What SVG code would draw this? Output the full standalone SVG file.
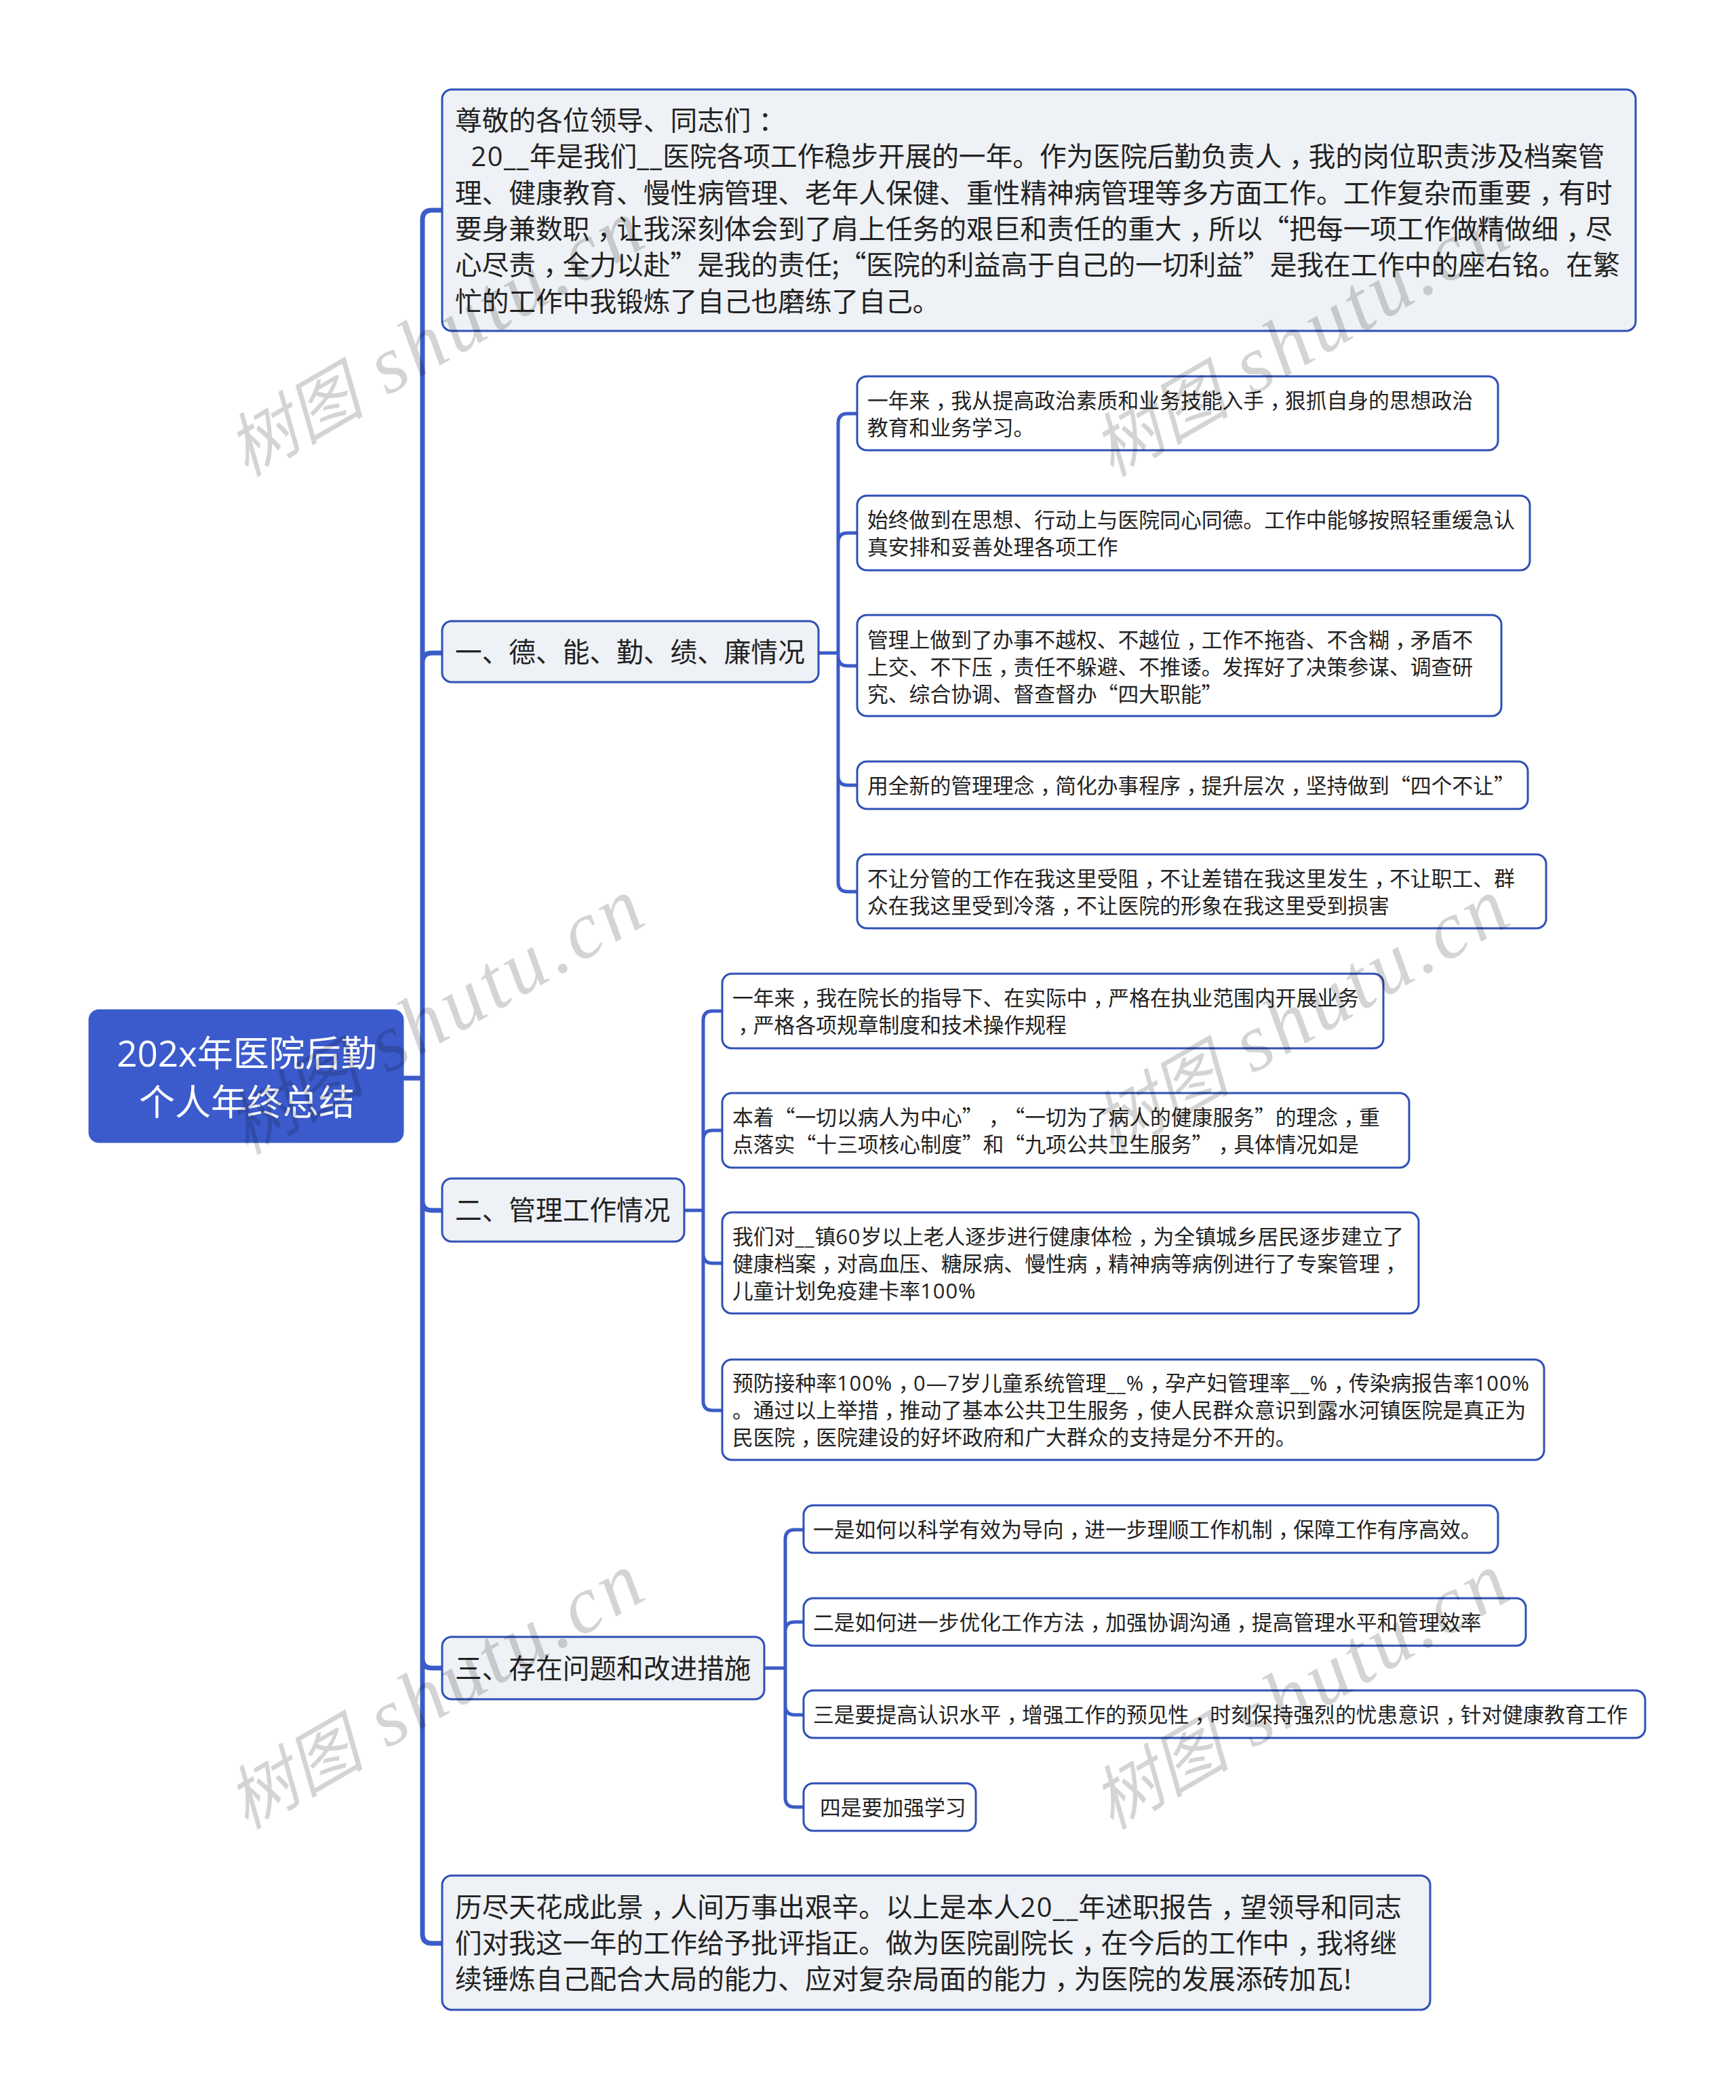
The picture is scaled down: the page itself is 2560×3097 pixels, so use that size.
<svg xmlns="http://www.w3.org/2000/svg" width="2560" height="3097" viewBox="0 0 2560 3097">
<style>
text{font-family:"Noto Sans CJK SC","Noto Sans",sans-serif;fill:#222;white-space:pre;text-spacing-trim:space-all}
.n{fill:#fff;stroke:#2f50b5;stroke-width:3}
.m{fill:#eef1f5;stroke:#2f50b5;stroke-width:3}
.r{fill:#3b5bcc;stroke:#3b5bcc;stroke-width:3}
.f54{font-size:53px;fill:#fff;text-anchor:middle}
.f40{font-size:39.7px}
.f32{font-size:30.8px}
.l{font-family:"Open Sans","Noto Sans",sans-serif}
.f40 .l{letter-spacing:1.5px}
.f32 .l{letter-spacing:1px}
.c{fill:none;stroke:#3b5bc6;stroke-linecap:round}
.c1{stroke-width:7}
.c2{stroke-width:5}
.wm{font-family:"Liberation Serif","Noto Sans CJK SC",serif;font-style:italic;font-size:120px;letter-spacing:6px;fill:#000;fill-opacity:.17}
.wc{font-size:102px;letter-spacing:0}
</style>
<g id="connectors">
<path class="c c1" d="M596 1590H623M623 1590V324Q623 310 637 310H652M623 1590V977Q623 963 637 963H652M623 1590V1771Q623 1785 637 1785H652M623 1590V2446Q623 2460 637 2460H652M623 1590V2852Q623 2866 637 2866H652"/>
<path class="c c2" d="M1207 963H1236M1236 963V624Q1236 610 1250 610H1265M1236 963V800Q1236 786 1250 786H1265M1236 963V968Q1236 982 1250 982H1265M1236 963V1144Q1236 1158 1250 1158H1265M1236 963V1301Q1236 1315 1250 1315H1265"/>
<path class="c c2" d="M1009 1785H1037M1037 1785V1505Q1037 1491 1051 1491H1066M1037 1785V1681Q1037 1667 1051 1667H1066M1037 1785V1849Q1037 1863 1051 1863H1066M1037 1785V2066Q1037 2080 1051 2080H1066"/>
<path class="c c2" d="M1127 2460H1158M1158 2460V2270Q1158 2256 1172 2256H1187M1158 2460V2406Q1158 2392 1172 2392H1187M1158 2460V2515Q1158 2529 1172 2529H1187M1158 2460V2651Q1158 2665 1172 2665H1187"/>
</g>
<g id="root"><rect class="r" x="132" y="1490" width="462" height="194" rx="14"/><text class="f54" x="364" y="1573"><tspan class="l">202x</tspan>年医院后勤</text><text class="f54" x="364" y="1645">个人年终总结</text></g>
<g id="intro"><rect class="m" x="652" y="132" width="1760" height="356" rx="14"/>
<text class="f40" x="671" y="192">尊敬的各位领导、同志们<tspan dx="11">：</tspan></text>
<text class="f40" x="671" y="245"><tspan class="l">  20__</tspan>年是我们<tspan class="l">__</tspan>医院各项工作稳步开展的一年。作为医院后勤负责人<tspan dx="11">，</tspan><tspan dx="-11">我</tspan>的岗位职责涉及档案管</text>
<text class="f40" x="671" y="298.5">理、健康教育、慢性病管理、老年人保健、重性精神病管理等多方面工作。工作复杂而重要<tspan dx="11">，</tspan><tspan dx="-11">有</tspan>时</text>
<text class="f40" x="671" y="352">要身兼数职<tspan dx="11">，</tspan><tspan dx="-11">让</tspan>我深刻体会到了肩上任务的艰巨和责任的重大<tspan dx="11">，</tspan><tspan dx="-11">所</tspan>以“把每一项工作做精做细<tspan dx="11">，</tspan><tspan dx="-11">尽</tspan></text>
<text class="f40" x="671" y="405">心尽责<tspan dx="11">，</tspan><tspan dx="-11">全</tspan>力以赴”是我的责任;“医院的利益高于自己的一切利益”是我在工作中的座右铭。在繁</text>
<text class="f40" x="671" y="458.5">忙的工作中我锻炼了自己也磨练了自己。</text></g>
<g id="sec1"><rect class="m" x="652" y="916" width="555" height="90" rx="14"/><text class="f40" x="671" y="976">一、德、能、勤、绩、廉情况</text></g>
<g id="sec1-1"><rect class="n" x="1264" y="555" width="945" height="109" rx="14"/><text class="f32" x="1279" y="601.5">一年来<tspan dx="8.5">，</tspan><tspan dx="-8.5">我</tspan>从提高政治素质和业务技能入手<tspan dx="8.5">，</tspan><tspan dx="-8.5">狠</tspan>抓自身的思想政治</text><text class="f32" x="1279" y="641.5">教育和业务学习。</text></g>
<g id="sec1-2"><rect class="n" x="1264" y="731" width="992" height="110" rx="14"/><text class="f32" x="1279" y="777.5">始终做到在思想、行动上与医院同心同德。工作中能够按照轻重缓急认</text><text class="f32" x="1279" y="817.5">真安排和妥善处理各项工作</text></g>
<g id="sec1-3"><rect class="n" x="1264" y="907" width="950" height="149" rx="14"/><text class="f32" x="1279" y="954.5">管理上做到了办事不越权、不越位<tspan dx="8.5">，</tspan><tspan dx="-8.5">工</tspan>作不拖沓、不含糊<tspan dx="8.5">，</tspan><tspan dx="-8.5">矛</tspan>盾不</text><text class="f32" x="1279" y="994.5">上交、不下压<tspan dx="8.5">，</tspan><tspan dx="-8.5">责</tspan>任不躲避、不推诿。发挥好了决策参谋、调查研</text><text class="f32" x="1279" y="1034.5">究、综合协调、督查督办“四大职能”</text></g>
<g id="sec1-4"><rect class="n" x="1264" y="1123" width="989" height="70" rx="14"/><text class="f32" x="1279" y="1169.5">用全新的管理理念<tspan dx="8.5">，</tspan><tspan dx="-8.5">简</tspan>化办事程序<tspan dx="8.5">，</tspan><tspan dx="-8.5">提</tspan>升层次<tspan dx="8.5">，</tspan><tspan dx="-8.5">坚</tspan>持做到“四个不让”</text></g>
<g id="sec1-5"><rect class="n" x="1264" y="1260" width="1016" height="109" rx="14"/><text class="f32" x="1279" y="1306.5">不让分管的工作在我这里受阻<tspan dx="8.5">，</tspan><tspan dx="-8.5">不</tspan>让差错在我这里发生<tspan dx="8.5">，</tspan><tspan dx="-8.5">不</tspan>让职工、群</text><text class="f32" x="1279" y="1346.5">众在我这里受到冷落<tspan dx="8.5">，</tspan><tspan dx="-8.5">不</tspan>让医院的形象在我这里受到损害</text></g>
<g id="sec2"><rect class="m" x="652" y="1738" width="357" height="93" rx="14"/><text class="f40" x="671" y="1799">二、管理工作情况</text></g>
<g id="sec2-1"><rect class="n" x="1065" y="1436" width="975" height="110" rx="14"/><text class="f32" x="1080" y="1482.5">一年来<tspan dx="8.5">，</tspan><tspan dx="-8.5">我</tspan>在院长的指导下、在实际中<tspan dx="8.5">，</tspan><tspan dx="-8.5">严</tspan>格在执业范围内开展业务</text><text class="f32" x="1080" y="1522.5"><tspan dx="8.5">，</tspan><tspan dx="-8.5">严</tspan>格各项规章制度和技术操作规程</text></g>
<g id="sec2-2"><rect class="n" x="1065" y="1612" width="1013" height="110" rx="14"/><text class="f32" x="1080" y="1658.5">本着“一切以病人为中心”<tspan dx="8.5">，</tspan><tspan dx="-8.5">“</tspan>一切为了病人的健康服务”的理念<tspan dx="8.5">，</tspan><tspan dx="-8.5">重</tspan></text><text class="f32" x="1080" y="1698.5">点落实“十三项核心制度”和“九项公共卫生服务”<tspan dx="8.5">，</tspan><tspan dx="-8.5">具</tspan>体情况如是</text></g>
<g id="sec2-3"><rect class="n" x="1065" y="1788" width="1027" height="149" rx="14"/><text class="f32" x="1080" y="1834.5">我们对<tspan class="l">__</tspan>镇<tspan class="l">60</tspan>岁以上老人逐步进行健康体检<tspan dx="8.5">，</tspan><tspan dx="-8.5">为</tspan>全镇城乡居民逐步建立了</text><text class="f32" x="1080" y="1874.5">健康档案<tspan dx="8.5">，</tspan><tspan dx="-8.5">对</tspan>高血压、糖尿病、慢性病<tspan dx="8.5">，</tspan><tspan dx="-8.5">精</tspan>神病等病例进行了专案管理<tspan dx="8.5">，</tspan></text><text class="f32" x="1080" y="1914.5">儿童计划免疫建卡率<tspan class="l">100%</tspan></text></g>
<g id="sec2-4"><rect class="n" x="1065" y="2005" width="1212" height="148" rx="14"/><text class="f32" x="1080" y="2051">预防接种率<tspan class="l">100%</tspan><tspan dx="8.5">，</tspan><tspan class="l" dx="-8.5">0—7</tspan>岁儿童系统管理<tspan class="l">__%</tspan><tspan dx="8.5">，</tspan><tspan dx="-8.5">孕</tspan>产妇管理率<tspan class="l">__%</tspan><tspan dx="8.5">，</tspan><tspan dx="-8.5">传</tspan>染病报告率<tspan class="l">100%</tspan></text><text class="f32" x="1080" y="2091">。通过以上举措<tspan dx="8.5">，</tspan><tspan dx="-8.5">推</tspan>动了基本公共卫生服务<tspan dx="8.5">，</tspan><tspan dx="-8.5">使</tspan>人民群众意识到露水河镇医院是真正为</text><text class="f32" x="1080" y="2131">民医院<tspan dx="8.5">，</tspan><tspan dx="-8.5">医</tspan>院建设的好坏政府和广大群众的支持是分不开的。</text></g>
<g id="sec3"><rect class="m" x="652" y="2414" width="475" height="92" rx="14"/><text class="f40" x="671" y="2475">三、存在问题和改进措施</text></g>
<g id="sec3-1"><rect class="n" x="1185" y="2220" width="1024" height="70" rx="14"/><text class="f32" x="1199" y="2267">一是如何以科学有效为导向<tspan dx="8.5">，</tspan><tspan dx="-8.5">进</tspan>一步理顺工作机制<tspan dx="8.5">，</tspan><tspan dx="-8.5">保</tspan>障工作有序高效。</text></g>
<g id="sec3-2"><rect class="n" x="1185" y="2357" width="1065" height="70" rx="14"/><text class="f32" x="1199" y="2403.5">二是如何进一步优化工作方法<tspan dx="8.5">，</tspan><tspan dx="-8.5">加</tspan>强协调沟通<tspan dx="8.5">，</tspan><tspan dx="-8.5">提</tspan>高管理水平和管理效率</text></g>
<g id="sec3-3"><rect class="n" x="1185" y="2493" width="1241" height="70" rx="14"/><text class="f32" x="1199" y="2540">三是要提高认识水平<tspan dx="8.5">，</tspan><tspan dx="-8.5">增</tspan>强工作的预见性<tspan dx="8.5">，</tspan><tspan dx="-8.5">时</tspan>刻保持强烈的忧患意识<tspan dx="8.5">，</tspan><tspan dx="-8.5">针</tspan>对健康教育工作</text></g>
<g id="sec3-4"><rect class="n" x="1185" y="2630" width="254" height="70" rx="14"/><text class="f32" x="1209" y="2677">四是要加强学习</text></g>
<g id="ending"><rect class="m" x="652" y="2766" width="1457" height="198" rx="14"/>
<text class="f40" x="671" y="2827">历尽天花成此景<tspan dx="11">，</tspan><tspan dx="-11">人</tspan>间万事出艰辛。以上是本人<tspan class="l">20__</tspan>年述职报告<tspan dx="11">，</tspan><tspan dx="-11">望</tspan>领导和同志</text>
<text class="f40" x="671" y="2880">们对我这一年的工作给予批评指正。做为医院副院长<tspan dx="11">，</tspan><tspan dx="-11">在</tspan>今后的工作中<tspan dx="11">，</tspan><tspan dx="-11">我</tspan>将继</text>
<text class="f40" x="671" y="2933">续锤炼自己配合大局的能力、应对复杂局面的能力<tspan dx="11">，</tspan><tspan dx="-11">为</tspan>医院的发展添砖加瓦!</text></g>
<g id="watermarks">
<text class="wm" transform="translate(363 704) rotate(-30)"><tspan class="wc">树图</tspan> shutu.cn</text>
<text class="wm" transform="translate(1639 704) rotate(-30)"><tspan class="wc">树图</tspan> shutu.cn</text>
<text class="wm" transform="translate(363 1704) rotate(-30)"><tspan class="wc">树图</tspan> shutu.cn</text>
<text class="wm" transform="translate(1639 1704) rotate(-30)"><tspan class="wc">树图</tspan> shutu.cn</text>
<text class="wm" transform="translate(363 2699) rotate(-30)"><tspan class="wc">树图</tspan> shutu.cn</text>
<text class="wm" transform="translate(1639 2699) rotate(-30)"><tspan class="wc">树图</tspan> shutu.cn</text>
</g>
</svg>
